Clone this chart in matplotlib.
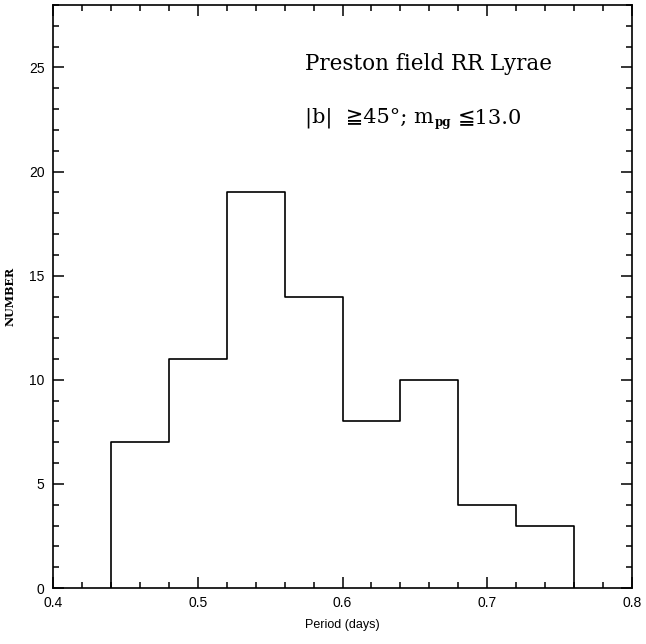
import matplotlib
matplotlib.use('Agg')
import matplotlib.pyplot as plt
from matplotlib.ticker import MultipleLocator, FuncFormatter
import numpy as np

# histogram of periods, bins 0.04 d wide
bin_edges = [0.44, 0.48, 0.52, 0.56, 0.60, 0.64, 0.68, 0.72, 0.76]
counts = [7, 11, 19, 14, 8, 10, 4, 3]

serif = ['DejaVu Serif', 'DejaVu Sans', 'Noto Sans CJK SC']

fig = plt.figure(figsize=(6.46, 6.44), dpi=100)
ax = fig.add_axes([53/646, 1-588/644, (632-53)/646, (588-5)/644])

# step outline incl. drop to zero at both ends
xs = [bin_edges[0]] + [e for e in bin_edges for _ in (0, 1)][1:-1] + [bin_edges[-1]]
ys = [0] + [c for c in counts for _ in (0, 1)] + [0]
ax.plot(xs, ys, color='black', lw=1.2)

ax.set_xlim(0.4, 0.8)
ax.set_ylim(0, 28)
ax.xaxis.set_major_locator(MultipleLocator(0.1))
ax.xaxis.set_minor_locator(MultipleLocator(0.02))
ax.yaxis.set_major_locator(MultipleLocator(5))
ax.yaxis.set_minor_locator(MultipleLocator(1))
ax.tick_params(which='both', direction='in', top=True, right=True, width=1.1)
ax.tick_params(which='major', length=8, labelsize=10, pad=6)
ax.tick_params(which='minor', length=4.5)
for lab in ax.get_xticklabels() + ax.get_yticklabels():
    lab.set_family('Liberation Sans')
ax.xaxis.set_major_formatter(FuncFormatter(lambda v, p: f'{v:.1f}'))
for s in ax.spines.values():
    s.set_linewidth(1.2)

ax.set_xlabel('Period (days)', fontsize=9, family='Liberation Sans', labelpad=6)
ax.set_ylabel('NUMBER', fontsize=8, family='DejaVu Serif', weight='bold', labelpad=10)

ax.text(0.435, 0.8885, 'Preston field RR Lyrae', transform=ax.transAxes,
        fontsize=15.5, family=serif, va='baseline', ha='left')
t1 = ax.text(0.435, 0.7976, '|b|  \u226745°; m', transform=ax.transAxes,
             fontsize=15, family=serif, va='baseline', ha='left')

# place subscript and the rest of the line after the measured first part
fig.canvas.draw()
r = fig.canvas.get_renderer()
bx = t1.get_window_extent(r).x1
by = ax.transAxes.transform((0.435, 0.7976))[1]
inv = ax.transAxes.inverted()
t2 = ax.text(*inv.transform((bx + 1, by - 3)), 'pg', transform=ax.transAxes,
             fontsize=8.5, family=serif, weight='bold', va='baseline', ha='left')
fig.canvas.draw()
px = t2.get_window_extent(r).x1
ax.text(*inv.transform((px + 7, by)), '\u226613.0', transform=ax.transAxes,
        fontsize=15, family=serif, va='baseline', ha='left')

fig.savefig('out.png', dpi=100)
